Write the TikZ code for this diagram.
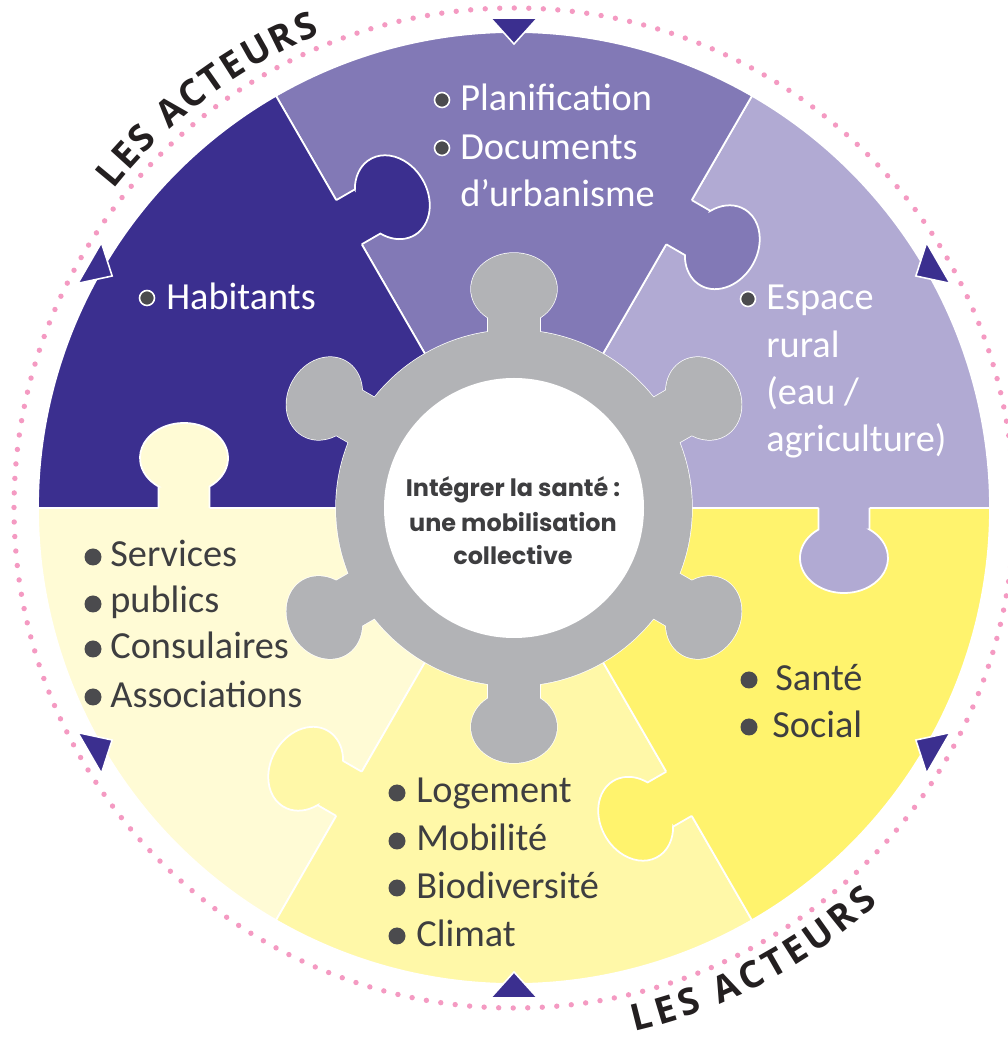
\documentclass[tikz,border=0pt]{standalone}
\usepackage{fontspec}
\setmainfont{Carlito}
\newfontfamily\centerfont{Poppins}
\newfontfamily\acteurfont{Open Sans}
\usetikzlibrary{decorations.text}
\definecolor{cA}{HTML}{B1AAD3}
\definecolor{cB}{HTML}{8279B6}
\definecolor{cC}{HTML}{3B2F8F}
\definecolor{cD}{HTML}{FFFBD5}
\definecolor{cE}{HTML}{FFF8A8}
\definecolor{cF}{HTML}{FFF36D}
\definecolor{gearc}{HTML}{B2B3B6}
\definecolor{bulc}{HTML}{4B4B4E}
\definecolor{txtc}{HTML}{3E3E40}
\definecolor{pinkc}{HTML}{F49AC2}
\definecolor{actc}{HTML}{231F20}
\tikzset{
  sepline/.style={draw=white, line width=1pt},
  lbl/.style={anchor=base west, inner sep=0pt, font=\fontsize{21.8}{26}\selectfont},
  wlbl/.style={lbl, text=white},
  dlbl/.style={lbl, text=txtc},
  ctr/.style={anchor=base, inner sep=0pt, text=txtc, font=\centerfont\bfseries\fontsize{13.6}{16}\selectfont},
  bulw/.style={fill=bulc, draw=white, line width=0.9pt},
  buld/.style={fill=bulc},
  tri/.style={fill=cC, draw=white, line width=0.9pt, line join=miter},
  acteurs/.style={decorate, decoration={text along path, text align={fit to path},
     text={|\acteurfont\bfseries\fontsize{21}{21}\selectfont\color{actc}|LES ACTEURS}}}
}
\newcommand\puzzletab[2]{%
  \begin{scope}[rotate=#1]
    \fill[#2] (304.5,3) -- (304.5,-21.5) arc[start angle=125.4, end angle=414.6, x radius=44, y radius=35] -- (355.5,-21.5) -- (355.5,3) -- cycle;
    \draw[sepline] (304.5,0) -- (304.5,-21.5) arc[start angle=125.4, end angle=414.6, x radius=44, y radius=35] -- (355.5,-21.5) -- (355.5,0);
  \end{scope}}
\begin{document}
\begin{tikzpicture}[x=0.02cm, y=0.02cm]
\useasboundingbox (0,0) rectangle (1008,1039);
\begin{scope}[shift={(514,531)}]
  % sectors
  \fill[cA, sepline] (0,0) -- (0:476) arc[start angle=0, end angle=60, radius=476] -- cycle;
  \fill[cB, sepline] (0,0) -- (60:476) arc[start angle=60, end angle=120, radius=476] -- cycle;
  \fill[cC, sepline] (0,0) -- (120:476) arc[start angle=120, end angle=180, radius=476] -- cycle;
  \fill[cD, sepline] (0,0) -- (180:476) arc[start angle=180, end angle=240, radius=476] -- cycle;
  \fill[cE, sepline] (0,0) -- (240:476) arc[start angle=240, end angle=300, radius=476] -- cycle;
  \fill[cF, sepline] (0,0) -- (300:476) arc[start angle=300, end angle=360, radius=476] -- cycle;
  % puzzle tabs
  \puzzletab{0}{cA}
  \puzzletab{60}{cB}
  \puzzletab{120}{cC}
  \puzzletab{180}{cD}
  \puzzletab{240}{cE}
  \puzzletab{300}{cF}
  % gear
  \foreach \a in {30,90,...,330} {
    \draw[white, line width=0.8pt, rotate=\a] (165,-26) rectangle (200,26);
    \draw[white, line width=0.8pt, rotate=\a] (219,0) ellipse[x radius=36, y radius=43];
  }
  \draw[white, line width=0.8pt] (0,0) circle[radius=178];
  \foreach \a in {30,90,...,330} {
    \fill[gearc, rotate=\a] (165,-26) rectangle (200,26);
    \fill[gearc, rotate=\a] (219,0) ellipse[x radius=36, y radius=43];
  }
  \fill[gearc] (0,0) circle[radius=178];
  \fill[white] (0,0) circle[radius=130];
  % dotted ring
  \draw[pinkc, line width=3.07pt, line cap=round, dash pattern=on 0pt off 8.2766pt] (0,0) circle[radius=500];
  % triangles
  \foreach \a in {30,90,...,330} {
    \filldraw[tri, rotate=\a] (464,0) -- (490,23.5) -- (490,-23.5) -- cycle;
  }
  % centre text
  \node[ctr] (c1) at (-1,11) {Intégrer la santé :};
  \node[ctr] (c2) at (-1,-24) {une mobilisation};
  \node[ctr] (c3) at (-1,-57) {collective};
  % top sector
  \filldraw[bulw] (-72,408) circle[radius=7.5];
  \filldraw[bulw] (-72,360) circle[radius=7.5];
  \node[wlbl] (p1) at (-54,397) {Planification};
  \node[wlbl] (p2) at (-54,348) {Documents};
  \node[wlbl] (p3) at (-54,301) {d’urbanisme};
  % upper left
  \filldraw[bulw] (-367,210) circle[radius=7.5];
  \node[wlbl] (h1) at (-348,198) {Habitants};
  % upper right
  \filldraw[bulw] (234,209) circle[radius=7.5];
  \node[wlbl] (e1) at (252,198) {Espace};
  \node[wlbl] (e2) at (252,150) {rural};
  \node[wlbl] (e3) at (252,103) {(eau /};
  \node[wlbl] (e4) at (252,56) {agriculture)};
  % lower left
  \fill[buld] (-421,-49) circle[radius=8.5];
  \fill[buld] (-421,-96) circle[radius=8.5];
  \fill[buld] (-421,-141) circle[radius=8.5];
  \fill[buld] (-421,-189) circle[radius=8.5];
  \node[dlbl] (s1) at (-404,-59) {Services};
  \node[dlbl] (s2) at (-404,-105) {publics};
  \node[dlbl] (s3) at (-404,-151) {Consulaires};
  \node[dlbl] (s4) at (-404,-200) {Associations};
  % lower right
  \fill[buld] (235,-172) circle[radius=8.5];
  \fill[buld] (235,-219) circle[radius=8.5];
  \node[dlbl] (r1) at (261,-183) {Santé};
  \node[dlbl] (r2) at (258,-230) {Social};
  % bottom
  \fill[buld] (-117,-285) circle[radius=8.5];
  \fill[buld] (-117,-333) circle[radius=8.5];
  \fill[buld] (-117,-380) circle[radius=8.5];
  \fill[buld] (-117,-428) circle[radius=8.5];
  \node[dlbl] (b1) at (-98,-295) {Logement};
  \node[dlbl] (b2) at (-98,-343) {Mobilité};
  \node[dlbl] (b3) at (-98,-391) {Biodiversité};
  \node[dlbl] (b4) at (-98,-439) {Climat};
  % curved titles
  \path[acteurs] (141.5:512) arc[start angle=141.5, end angle=112.3, radius=512];
  \path[acteurs] (-77:537) arc[start angle=-77, end angle=-47.3, radius=537];
\end{scope}
\end{tikzpicture}
\end{document}
